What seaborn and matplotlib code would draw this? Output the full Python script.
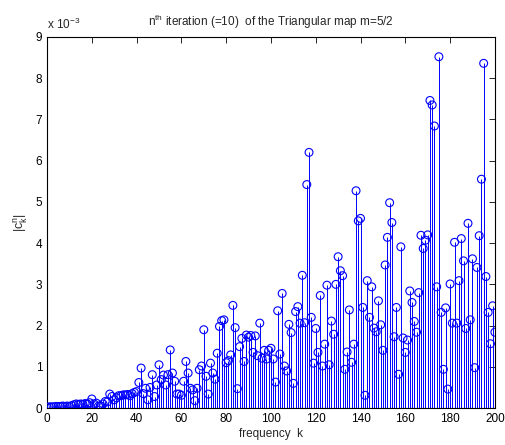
import numpy as np
import pandas as pd
import matplotlib
matplotlib.use("Agg")
import matplotlib.pyplot as plt
import seaborn as sns

# values in units of 1e-3, k = 0..200
vals_0_49 = [0.02, 0.03, 0.03, 0.03, 0.04, 0.04, 0.04, 0.05, 0.04, 0.05,
             0.04, 0.06, 0.08, 0.10, 0.09, 0.10, 0.09, 0.11, 0.10, 0.13,
             0.22, 0.10, 0.12, 0.05, 0.05, 0.10, 0.16, 0.15, 0.34, 0.28,
             0.20, 0.25, 0.30, 0.30, 0.32, 0.32, 0.33, 0.30, 0.35, 0.38,
             0.40, 0.62, 0.97, 0.35, 0.48, 0.20, 0.50, 0.81, 0.28, 0.56]
vals_50_99 = [1.05, 0.69, 0.80, 0.56, 0.81, 1.41, 0.85, 0.65, 0.34, 0.34,
              0.31, 0.65, 1.13, 0.85, 0.48, 0.44, 0.18, 0.48, 0.93, 1.02,
              1.90, 0.77, 0.34, 1.09, 0.85, 0.70, 1.33, 1.98, 2.12, 2.14,
              1.10, 1.15, 1.29, 2.49, 1.95, 0.47, 1.49, 1.69, 1.13, 1.77,
              1.72, 1.76, 1.35, 1.75, 1.27, 2.06, 1.21, 1.40, 1.19, 1.40]
vals_100_149 = [1.45, 1.19, 0.63, 2.36, 1.31, 2.78, 1.02, 0.90, 2.03, 1.83,
                0.60, 2.34, 2.46, 2.06, 3.22, 2.07, 5.42, 6.20, 2.20, 1.09,
                1.93, 1.35, 2.73, 1.02, 1.55, 2.98, 1.05, 2.11, 1.79, 3.00,
                3.67, 3.33, 3.21, 0.94, 1.36, 2.38, 1.11, 1.55, 5.27, 4.54,
                4.60, 2.44, 0.31, 3.09, 2.20, 2.94, 1.94, 1.85, 2.60, 2.02]
vals_150_200 = [1.40, 3.47, 4.14, 4.98, 4.50, 1.73, 2.44, 0.82, 3.91, 1.70,
                1.35, 1.65, 2.84, 2.56, 2.10, 1.84, 2.80, 4.19, 3.87, 4.07,
                4.20, 7.46, 7.35, 6.84, 2.94, 8.52, 2.32, 0.94, 2.43, 0.46,
                3.01, 2.06, 4.02, 2.06, 3.09, 4.11, 3.57, 1.93, 4.48, 2.14,
                3.62, 0.98, 3.41, 4.18, 5.55, 8.36, 3.19, 2.32, 1.56, 2.48,
                1.84]

values = np.array(vals_0_49 + vals_50_99 + vals_100_149 + vals_150_200) * 1e-3
k = np.arange(len(values))
df = pd.DataFrame({"k": k, "c": values})

sns.set_style("white")
plt.rcParams['font.family'] = ['Liberation Sans', 'DejaVu Sans']
plt.rcParams['mathtext.fontset'] = 'custom'
plt.rcParams['mathtext.rm'] = 'Liberation Sans'

fig = plt.figure(figsize=(5.06, 4.45), dpi=100)
ax = fig.add_axes([0.093, 0.083, 0.885, 0.834])

ax.vlines(df["k"], 0, df["c"], color="#0000ff", linewidth=0.7, zorder=2)
ax.axhline(0, color="#0000ff", linewidth=0.8, zorder=2)
sns.scatterplot(data=df, x="k", y="c", ax=ax, marker="o", s=32,
                facecolors="none", edgecolor="#0000ff", linewidth=0.8, zorder=3)

ax.set_xlim(0, 200)
ax.set_ylim(0, 9e-3)
ax.set_xticks(np.arange(0, 201, 20))
ax.set_yticks(np.arange(0, 10) * 1e-3)
ax.set_yticklabels([str(i) for i in range(10)])
ax.tick_params(direction="in", top=True, right=True, length=4, width=0.6,
               labelsize=8.5, colors="black")
for s in ax.spines.values():
    s.set_visible(True)
    s.set_color("black")
    s.set_linewidth(0.8)

ax.set_xlabel("frequency  k", fontsize=8.5, labelpad=2)
ax.set_ylabel(r"$|\mathrm{c}_\mathrm{k}^\mathrm{n}|$", fontsize=9, labelpad=4)
ax.set_title(r"n$^{\mathrm{th}}$ iteration (=10)  of the Triangular map m=5/2",
             fontsize=8.5, pad=8)
ax.text(0.0, 1.012, r"x 10$^{-3}$", transform=ax.transAxes, fontsize=8.5,
        ha="left", va="bottom")

fig.savefig("out.png", dpi=100)
